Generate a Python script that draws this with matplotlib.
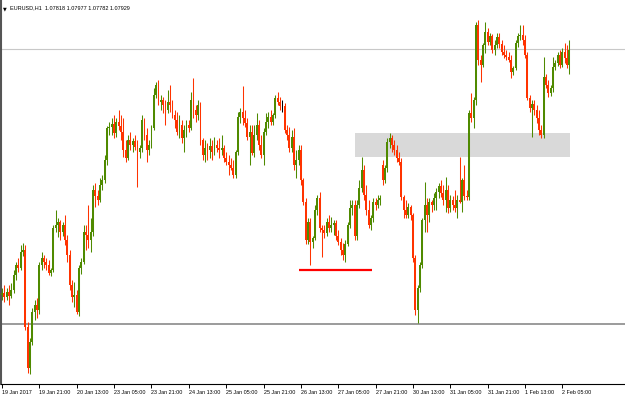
import matplotlib
matplotlib.use('Agg')
import matplotlib.pyplot as plt
from matplotlib.patches import Rectangle
import numpy as np

# EURUSD H1 candles, 19 Jan 2017 05:00 .. 2 Feb 2017
opens = [
    1.0555, 1.0557, 1.0553, 1.0558, 1.0554, 1.0560, 1.0575, 1.0585, 1.0582, 1.0598,
    1.0600, 1.0523, 1.0482, 1.0508, 1.0538, 1.0545, 1.0540, 1.0585, 1.0592, 1.0588,
    1.0585, 1.0577, 1.0580, 1.0622, 1.0625, 1.0628, 1.0618, 1.0625, 1.0610, 1.0595,
    1.0565, 1.0553, 1.0555, 1.0538, 1.0582, 1.0588, 1.0618, 1.0615, 1.0610, 1.0618,
    1.0660, 1.0654, 1.0650, 1.0665, 1.0670, 1.0690, 1.0722, 1.0723, 1.0726, 1.0717,
    1.0728, 1.0724, 1.0718, 1.0700, 1.0692, 1.0710, 1.0705, 1.0709, 1.0703, 1.0698,
    1.0702, 1.0730, 1.0715, 1.0700, 1.0705, 1.0722, 1.0755, 1.0765, 1.0748, 1.0750,
    1.0745, 1.0740, 1.0748, 1.0745, 1.0735, 1.0730, 1.0718, 1.0725, 1.0712, 1.0720,
    1.0725, 1.0722, 1.0750, 1.0740, 1.0735, 1.0745, 1.0710, 1.0695, 1.0702, 1.0700,
    1.0704, 1.0698, 1.0705, 1.0702, 1.0700, 1.0702, 1.0692, 1.0688, 1.0685, 1.0682,
    1.0675, 1.0698, 1.0733, 1.0738, 1.0732, 1.0727, 1.0713, 1.0718, 1.0697, 1.0715,
    1.0725, 1.0705, 1.0695, 1.0718, 1.0728, 1.0733, 1.0728, 1.0735, 1.0752, 1.0748,
    1.0744, 1.0744, 1.0720, 1.0715, 1.0702, 1.0713, 1.0685, 1.0690, 1.0700, 1.0670,
    1.0648, 1.0610, 1.0628, 1.0608, 1.0612, 1.0640, 1.0652, 1.0622, 1.0620, 1.0617,
    1.0628, 1.0622, 1.0625, 1.0627, 1.0614, 1.0608, 1.0600, 1.0595, 1.0606, 1.0625,
    1.0642, 1.0645, 1.0614, 1.0645, 1.0662, 1.0680, 1.0655, 1.0640, 1.0625, 1.0632,
    1.0648, 1.0645, 1.0650, 1.0685, 1.0670, 1.0682, 1.0708, 1.0712, 1.0705, 1.0700,
    1.0692, 1.0688, 1.0653, 1.0640, 1.0635, 1.0643, 1.0635, 1.0592, 1.0540, 1.0562,
    1.0585, 1.0630, 1.0645, 1.0635, 1.0648, 1.0645, 1.0652, 1.0658, 1.0664, 1.0657,
    1.0650, 1.0660, 1.0642, 1.0650, 1.0645, 1.0642, 1.0650, 1.0648, 1.0670, 1.0654,
    1.0653, 1.0737, 1.0732, 1.0750, 1.0825, 1.0790, 1.0785, 1.0805, 1.0818, 1.0808,
    1.0814, 1.0800, 1.0805, 1.0813, 1.0806, 1.0798, 1.0795, 1.0793, 1.0790, 1.0778,
    1.0782, 1.0807, 1.0814, 1.0815, 1.0810, 1.0795, 1.0752, 1.0742, 1.0746, 1.0740,
    1.0732, 1.0720, 1.0715, 1.0773, 1.0765, 1.0757, 1.0762, 1.0783, 1.0787, 1.0795,
    1.0785, 1.0798, 1.0792, 1.0785,
]
highs = [
    1.0562, 1.0565, 1.0562, 1.0565, 1.0567, 1.0580, 1.0588, 1.0592, 1.0605, 1.0607,
    1.0605, 1.0528, 1.0512, 1.0542, 1.0550, 1.0552, 1.0588, 1.0598, 1.0595, 1.0592,
    1.0590, 1.0582, 1.0625, 1.0640, 1.0632, 1.0630, 1.0628, 1.0635, 1.0615, 1.0600,
    1.0570, 1.0568, 1.0560, 1.0585, 1.0592, 1.0625, 1.0625, 1.0645, 1.0632, 1.0665,
    1.0667, 1.0660, 1.0672, 1.0675, 1.0695, 1.0724, 1.0728, 1.0732, 1.0735, 1.0732,
    1.0740, 1.0735, 1.0732, 1.0710, 1.0715, 1.0718, 1.0712, 1.0715, 1.0710, 1.0705,
    1.0735, 1.0732, 1.0722, 1.0710, 1.0725, 1.0762, 1.0768, 1.0770, 1.0755, 1.0753,
    1.0750, 1.0760, 1.0765, 1.0750, 1.0740, 1.0738, 1.0735, 1.0730, 1.0725, 1.0730,
    1.0730, 1.0758, 1.0772, 1.0745, 1.0750, 1.0748, 1.0712, 1.0710, 1.0707, 1.0712,
    1.0710, 1.0713, 1.0710, 1.0712, 1.0715, 1.0705, 1.0698, 1.0695, 1.0692, 1.0690,
    1.0700, 1.0738, 1.0742, 1.0764, 1.0740, 1.0732, 1.0725, 1.0725, 1.0725, 1.0737,
    1.0730, 1.0715, 1.0722, 1.0737, 1.0738, 1.0740, 1.0737, 1.0755, 1.0758, 1.0753,
    1.0750, 1.0747, 1.0725, 1.0723, 1.0720, 1.0722, 1.0700, 1.0705, 1.0705, 1.0672,
    1.0652, 1.0632, 1.0632, 1.0614, 1.0645, 1.0655, 1.0658, 1.0625, 1.0625, 1.0632,
    1.0635, 1.0633, 1.0630, 1.0630, 1.0620, 1.0612, 1.0607, 1.0610, 1.0628, 1.0650,
    1.0650, 1.0650, 1.0650, 1.0670, 1.0693, 1.0685, 1.0665, 1.0650, 1.0635, 1.0652,
    1.0652, 1.0655, 1.0655, 1.0690, 1.0685, 1.0712, 1.0717, 1.0715, 1.0710, 1.0705,
    1.0698, 1.0692, 1.0655, 1.0650, 1.0647, 1.0645, 1.0637, 1.0595, 1.0565, 1.0588,
    1.0632, 1.0668, 1.0652, 1.0652, 1.0650, 1.0657, 1.0662, 1.0667, 1.0670, 1.0665,
    1.0673, 1.0665, 1.0655, 1.0654, 1.0660, 1.0655, 1.0693, 1.0672, 1.0685, 1.0660,
    1.0740, 1.0757, 1.0753, 1.0828, 1.0830, 1.0795, 1.0807, 1.0828, 1.0822, 1.0817,
    1.0816, 1.0810, 1.0817, 1.0817, 1.0810, 1.0805, 1.0800, 1.0798, 1.0795, 1.0784,
    1.0810, 1.0817, 1.0825, 1.0825, 1.0815, 1.0798, 1.0755, 1.0750, 1.0750, 1.0745,
    1.0740, 1.0725, 1.0793, 1.0776, 1.0770, 1.0765, 1.0793, 1.0790, 1.0798, 1.0800,
    1.0802, 1.0807, 1.0805, 1.0810,
]
lows = [
    1.0550, 1.0548, 1.0550, 1.0545, 1.0552, 1.0557, 1.0570, 1.0578, 1.0580, 1.0594,
    1.0520, 1.0477, 1.0476, 1.0505, 1.0530, 1.0532, 1.0536, 1.0580, 1.0582, 1.0580,
    1.0575, 1.0574, 1.0578, 1.0618, 1.0613, 1.0610, 1.0614, 1.0605, 1.0588, 1.0560,
    1.0548, 1.0543, 1.0536, 1.0534, 1.0576, 1.0586, 1.0600, 1.0602, 1.0598, 1.0614,
    1.0643, 1.0645, 1.0648, 1.0660, 1.0667, 1.0685, 1.0715, 1.0715, 1.0712, 1.0713,
    1.0720, 1.0710, 1.0693, 1.0688, 1.0690, 1.0700, 1.0698, 1.0700, 1.0663, 1.0692,
    1.0698, 1.0710, 1.0688, 1.0695, 1.0702, 1.0720, 1.0752, 1.0745, 1.0740, 1.0737,
    1.0725, 1.0737, 1.0738, 1.0732, 1.0722, 1.0715, 1.0712, 1.0707, 1.0698, 1.0713,
    1.0718, 1.0720, 1.0732, 1.0728, 1.0730, 1.0705, 1.0690, 1.0688, 1.0690, 1.0692,
    1.0690, 1.0695, 1.0698, 1.0692, 1.0695, 1.0688, 1.0685, 1.0675, 1.0680, 1.0672,
    1.0672, 1.0695, 1.0727, 1.0725, 1.0723, 1.0710, 1.0685, 1.0695, 1.0693, 1.0710,
    1.0700, 1.0692, 1.0685, 1.0715, 1.0722, 1.0725, 1.0725, 1.0732, 1.0745, 1.0740,
    1.0738, 1.0717, 1.0710, 1.0698, 1.0698, 1.0680, 1.0672, 1.0685, 1.0665, 1.0645,
    1.0606, 1.0606, 1.0585, 1.0602, 1.0610, 1.0635, 1.0618, 1.0593, 1.0612, 1.0614,
    1.0618, 1.0618, 1.0615, 1.0610, 1.0605, 1.0595, 1.0590, 1.0588, 1.0604, 1.0622,
    1.0635, 1.0610, 1.0610, 1.0642, 1.0658, 1.0650, 1.0635, 1.0622, 1.0620, 1.0628,
    1.0640, 1.0642, 1.0645, 1.0665, 1.0667, 1.0678, 1.0702, 1.0698, 1.0695, 1.0688,
    1.0685, 1.0650, 1.0632, 1.0632, 1.0632, 1.0630, 1.0588, 1.0535, 1.0527, 1.0558,
    1.0582, 1.0618, 1.0618, 1.0628, 1.0638, 1.0640, 1.0640, 1.0652, 1.0653, 1.0645,
    1.0638, 1.0637, 1.0638, 1.0640, 1.0638, 1.0632, 1.0647, 1.0638, 1.0650, 1.0650,
    1.0650, 1.0728, 1.0722, 1.0745, 1.0785, 1.0768, 1.0783, 1.0797, 1.0805, 1.0805,
    1.0797, 1.0795, 1.0802, 1.0802, 1.0795, 1.0792, 1.0790, 1.0788, 1.0772, 1.0775,
    1.0780, 1.0803, 1.0810, 1.0805, 1.0792, 1.0750, 1.0738, 1.0713, 1.0735, 1.0727,
    1.0715, 1.0712, 1.0712, 1.0762, 1.0753, 1.0754, 1.0758, 1.0780, 1.0784, 1.0782,
    1.0783, 1.0787, 1.0782, 1.0776,
]
closes = [
    1.0557, 1.0553, 1.0558, 1.0554, 1.0560, 1.0575, 1.0585, 1.0582, 1.0598, 1.0600,
    1.0523, 1.0482, 1.0508, 1.0538, 1.0545, 1.0540, 1.0585, 1.0592, 1.0588, 1.0585,
    1.0577, 1.0580, 1.0622, 1.0625, 1.0628, 1.0618, 1.0625, 1.0610, 1.0595, 1.0565,
    1.0553, 1.0555, 1.0538, 1.0582, 1.0588, 1.0618, 1.0615, 1.0610, 1.0618, 1.0660,
    1.0654, 1.0650, 1.0665, 1.0670, 1.0690, 1.0722, 1.0723, 1.0726, 1.0717, 1.0728,
    1.0724, 1.0718, 1.0700, 1.0692, 1.0710, 1.0705, 1.0709, 1.0703, 1.0698, 1.0702,
    1.0730, 1.0715, 1.0700, 1.0705, 1.0722, 1.0755, 1.0765, 1.0748, 1.0750, 1.0745,
    1.0740, 1.0748, 1.0745, 1.0735, 1.0730, 1.0718, 1.0725, 1.0712, 1.0720, 1.0725,
    1.0722, 1.0750, 1.0740, 1.0735, 1.0745, 1.0710, 1.0695, 1.0702, 1.0700, 1.0704,
    1.0698, 1.0705, 1.0702, 1.0700, 1.0702, 1.0692, 1.0688, 1.0685, 1.0682, 1.0675,
    1.0698, 1.0733, 1.0738, 1.0732, 1.0727, 1.0713, 1.0718, 1.0697, 1.0715, 1.0725,
    1.0705, 1.0695, 1.0718, 1.0728, 1.0733, 1.0728, 1.0735, 1.0752, 1.0748, 1.0744,
    1.0744, 1.0720, 1.0715, 1.0702, 1.0713, 1.0685, 1.0690, 1.0700, 1.0670, 1.0648,
    1.0610, 1.0628, 1.0608, 1.0612, 1.0640, 1.0652, 1.0622, 1.0620, 1.0617, 1.0628,
    1.0622, 1.0625, 1.0627, 1.0614, 1.0608, 1.0600, 1.0595, 1.0606, 1.0625, 1.0642,
    1.0645, 1.0614, 1.0645, 1.0662, 1.0680, 1.0655, 1.0640, 1.0625, 1.0632, 1.0648,
    1.0645, 1.0650, 1.0652, 1.0670, 1.0682, 1.0708, 1.0712, 1.0705, 1.0700, 1.0692,
    1.0688, 1.0653, 1.0640, 1.0635, 1.0643, 1.0635, 1.0592, 1.0540, 1.0562, 1.0585,
    1.0630, 1.0645, 1.0635, 1.0648, 1.0645, 1.0652, 1.0658, 1.0664, 1.0657, 1.0650,
    1.0660, 1.0642, 1.0650, 1.0645, 1.0642, 1.0650, 1.0648, 1.0670, 1.0654, 1.0653,
    1.0737, 1.0732, 1.0750, 1.0825, 1.0790, 1.0785, 1.0805, 1.0818, 1.0808, 1.0814,
    1.0800, 1.0805, 1.0813, 1.0806, 1.0798, 1.0795, 1.0793, 1.0790, 1.0778, 1.0782,
    1.0807, 1.0814, 1.0815, 1.0810, 1.0795, 1.0752, 1.0742, 1.0746, 1.0740, 1.0732,
    1.0720, 1.0715, 1.0773, 1.0765, 1.0757, 1.0762, 1.0783, 1.0787, 1.0795, 1.0785,
    1.0798, 1.0792, 1.0785, 1.0800,
]

tick_bars = [0, 16, 32, 48, 64, 80, 96, 112, 128, 144, 160, 176, 192, 208, 224, 240]
tick_labels = ['19 Jan 2017', '19 Jan 21:00', '20 Jan 13:00', '23 Jan 05:00',
               '23 Jan 21:00', '24 Jan 13:00', '25 Jan 05:00', '25 Jan 21:00',
               '26 Jan 13:00', '27 Jan 05:00', '27 Jan 21:00', '30 Jan 13:00',
               '31 Jan 05:00', '31 Jan 21:00', '1 Feb 13:00', '2 Feb 05:00']

title = 'EURUSD,H1  1.07818 1.07977 1.07782 1.07929'

# objects drawn on the chart
upper_level = 1.0801
lower_level = 1.0526
zone_bars = (151.3, 243.3)
zone_prices = (1.0693, 1.0717)
support_bars = (127.4, 158.6)
support_price = 1.05805

BULL = '#4f8a00'
BEAR = '#ff3300'

o = np.array(opens)
h = np.array(highs)
l = np.array(lows)
c = np.array(closes)
x = np.arange(len(c))

colors = [BULL if cc > oo else (BEAR if cc < oo else 'black') for oo, cc in zip(o, c)]

fig = plt.figure(figsize=(6.25, 3.97), dpi=100)
ax = fig.add_axes([0.0016, 1 - 384 / 397, 1 - 0.0016, 384 / 397])

ax.add_patch(Rectangle((zone_bars[0], zone_prices[0]), zone_bars[1] - zone_bars[0],
                       zone_prices[1] - zone_prices[0], facecolor='#d9d9d9',
                       edgecolor='none', zorder=0))
ax.axhline(upper_level, color='#c8c8c8', lw=0.8, zorder=1)
ax.axhline(lower_level, color='#8a8a8a', lw=1.2, zorder=1)
ax.plot(support_bars, [support_price, support_price], color='#ff0000', lw=1.6,
        solid_capstyle='butt', zorder=4)

ax.vlines(x, l, h, colors=colors, lw=0.75, zorder=2)
body = np.where(c == o, 0.00004, c - o)
ax.bar(x, body, bottom=np.where(c == o, o - 0.00002, o), width=0.8,
       color=colors, linewidth=0, zorder=3)

ax.set_xlim(-0.43, 266.8)
ax.set_ylim(1.0466, 1.0850)

ax.set_xticks(tick_bars)
ax.set_xticklabels(tick_labels, ha='left', fontsize=3.9, family='Liberation Sans')
ax.tick_params(axis='x', length=3, width=0.7, pad=1.5, direction='out')
ax.set_yticks([])

for side in ['top', 'right']:
    ax.spines[side].set_visible(False)
ax.spines['left'].set_color('#555555')
ax.spines['left'].set_linewidth(1.5)
ax.spines['bottom'].set_color('black')
ax.spines['bottom'].set_linewidth(0.8)

fig.text(0.004, 0.985, '\u25bc', fontsize=3.5, va='top', ha='left', color='black')
fig.text(0.016, 0.987, title, fontsize=4.0, va='top', ha='left',
         family='Liberation Sans', color='black')

fig.savefig('out.png', dpi=100)
